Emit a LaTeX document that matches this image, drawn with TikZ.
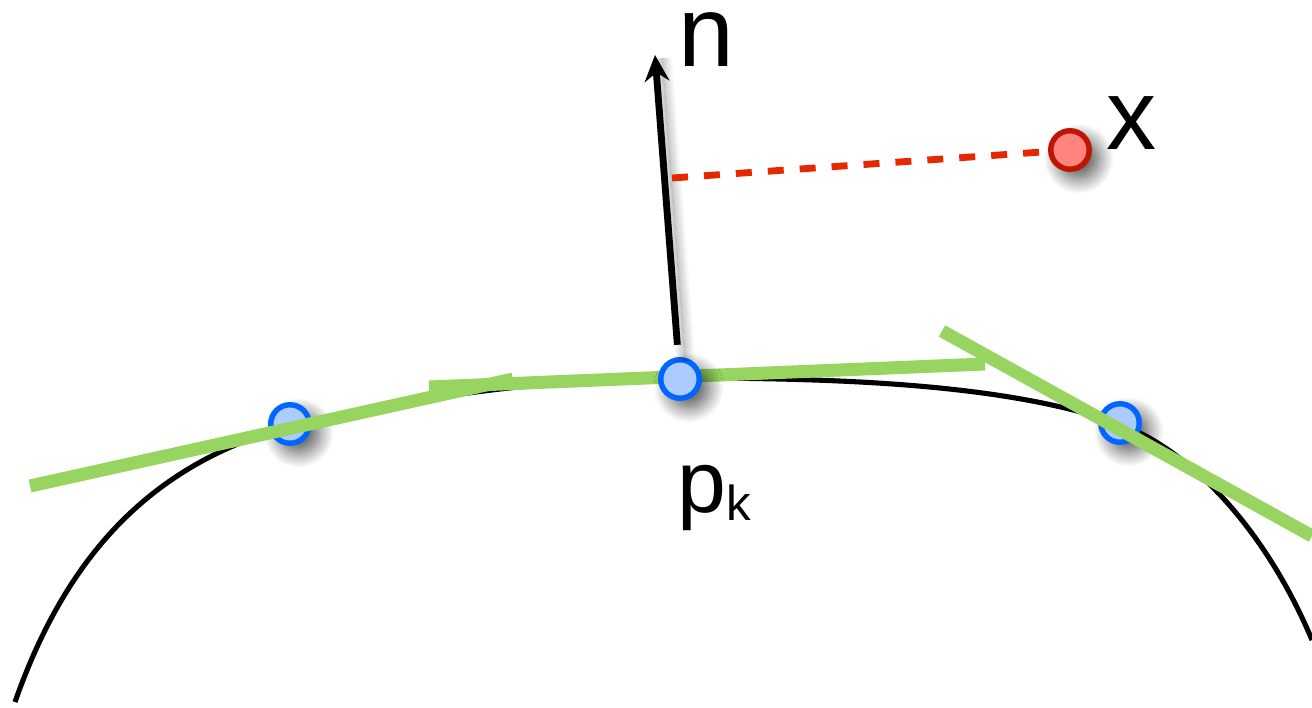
\documentclass[tikz,border=0pt]{standalone}
\usepackage{fontspec}
\setmainfont{Liberation Sans}
\usepackage{tikz}
\usetikzlibrary{arrows.meta,positioning,shadows.blur}

\definecolor{tangentgreen}{RGB}{151,212,96}
\definecolor{sampleblue}{RGB}{0,102,255}
\definecolor{samplefill}{RGB}{172,203,254}
\definecolor{queryred}{RGB}{190,22,0}
\definecolor{queryfill}{RGB}{255,132,128}
\definecolor{distred}{RGB}{230,40,0}

\begin{document}
\begin{tikzpicture}[
      x=0.02cm, y=-0.02cm,
      curve/.style = {line width=2.9pt, black},
      tangent/.style = {line width=7.4pt, tangentgreen},
      soft shadow/.style = {blur shadow={shadow xshift=5pt, shadow yshift=-5pt, shadow blur radius=9pt,
                       shadow blur steps=20, shadow opacity=70}},
      sample/.style = {circle, draw=sampleblue, fill=samplefill, line width=3.1pt, minimum size=0.77cm, inner sep=0pt, soft shadow},
      query/.style = {sample, draw=queryred, fill=queryfill},
      normal/.style = {-{Stealth[length=15pt, width=14pt, inset=5pt]}, line width=3.9pt, black},
      dist/.style = {line width=3.9pt, distred, dash pattern=on 0.32cm off 0.32cm},
      label/.style = {font=\fontsize{57}{66}\selectfont, inner sep=0pt, anchor=base}
    ]
    \useasboundingbox (0,0) rectangle (1312,707);
    % surface
    \draw[curve] (15,702) .. controls (70,545) and (160,462) .. (290,426)
                 .. controls (420,395) and (560,378) .. (680,378)
                 .. controls (850,378) and (1010,385) .. (1120,424)
                 .. controls (1200,455) and (1270,540) .. (1312,640);
    % neighbouring samples
    \node[sample] (pl) at (290,424) {};
    \node[sample] (pr) at (1120,423) {};
    % tangent lines
    \draw[tangent] (30,486) -- (513,379);
    \draw[tangent] (429,387) -- (985,364);
    \draw[tangent] (942,331) -- (1312,536);
    \node[sample] (pk) at (680,379) {};
    % normal and distance
    \coordinate (ntip) at (655,55);
    \coordinate (foot) at (672,178);
    \node[query] (x) at (1070,150) {};
    \draw[normal, shorten <=7pt, blur shadow={shadow xshift=4pt, shadow yshift=-2pt, shadow blur radius=6pt,
          shadow blur steps=15, shadow opacity=45}] (pk) -- (ntip);
    \draw[dist] (foot) -- (x);
    % labels
    \node[label] (nlab) at (706,66) {n};
    \node[label] (xlab) at (1132,149) {x};
    \node[label, font=\fontsize{50}{60}\selectfont] (pklab) at (714,512) {p\raisebox{-0.16cm}{\fontsize{28}{32}\selectfont k}};
  \end{tikzpicture}
\end{document}
